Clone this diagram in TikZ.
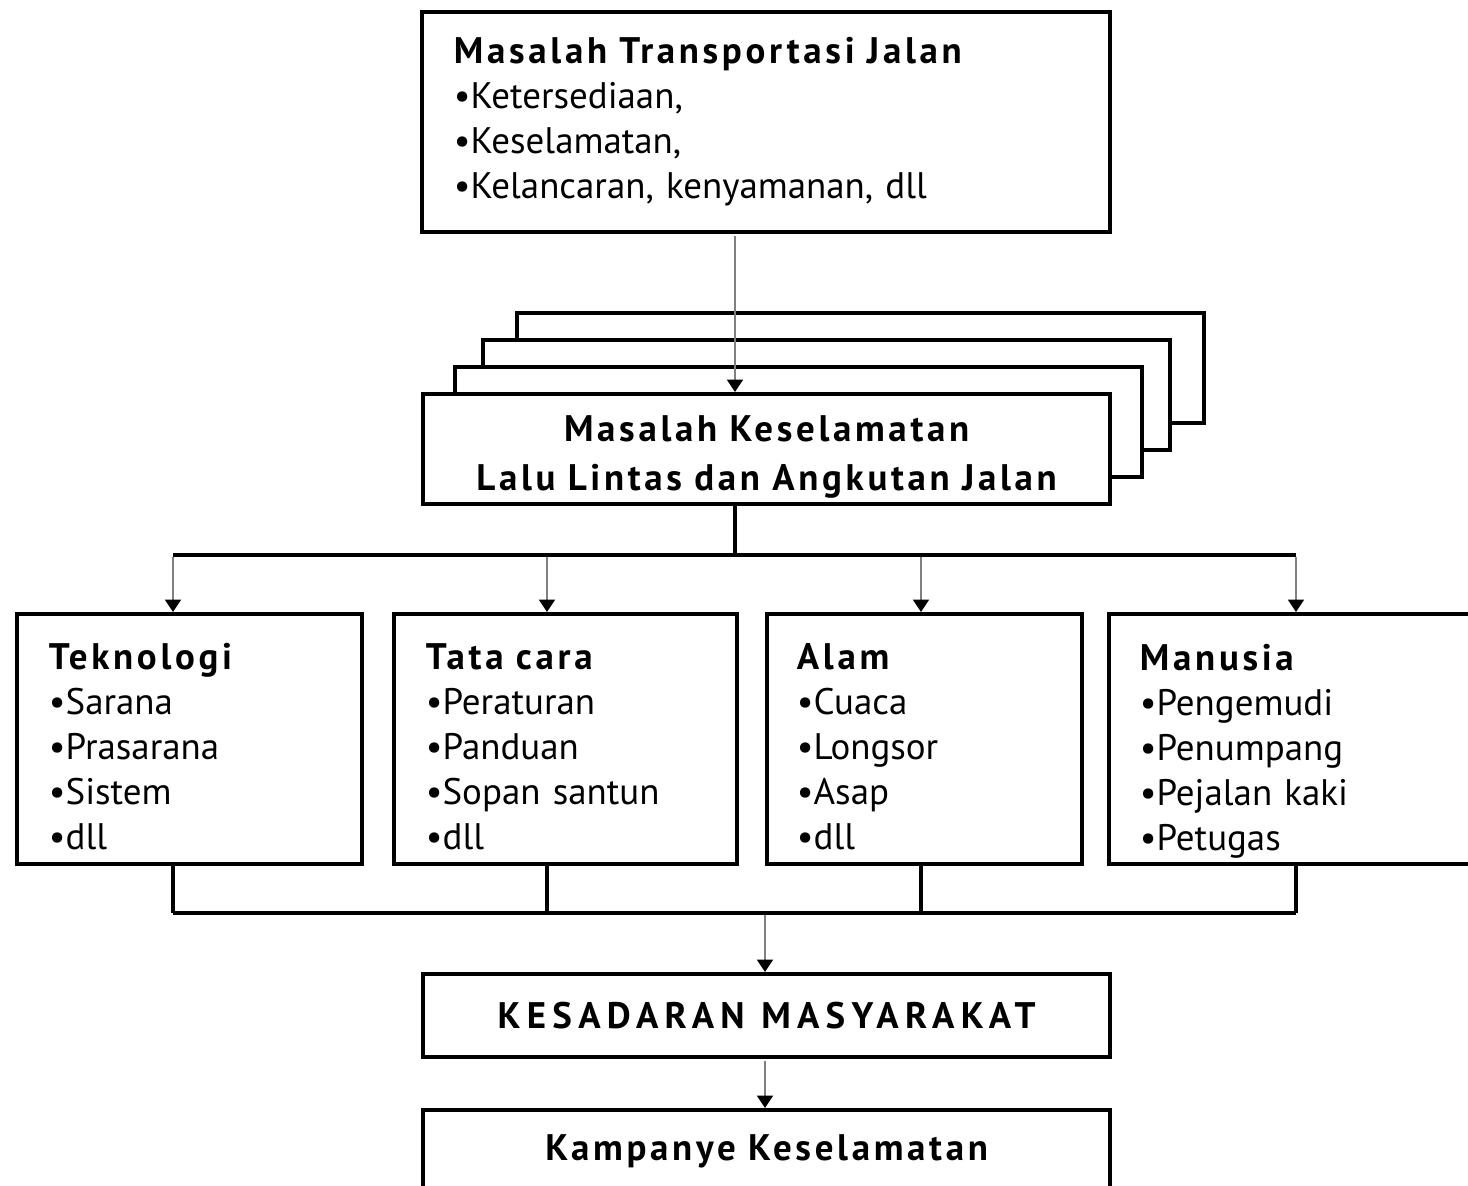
\documentclass[tikz,border=0pt]{standalone}
\usepackage{fontspec}
\setmainfont{PT Sans}[BoldFeatures={LetterSpace=10}]
\newfontfamily\capsfont{PT Sans}[BoldFeatures={LetterSpace=17}]
\usetikzlibrary{arrows.meta}
\tikzstyle{arrow} = [line width=0.5pt, draw=gray, shorten <=0.6pt, -{Triangle[width=4.5pt,length=3.5pt,color=black]}]
\tikzstyle{line} = [line width=1.1pt]
\tikzstyle{box} = [draw, fill=white, line width=1.1pt, rectangle, anchor=north west, inner xsep=0.32cm, inner ysep=0pt, align=left, font=\fontsize{10.5}{12.8}\selectfont]
\tikzstyle{cbox} = [box, align=center, font=\bfseries\fontsize{10.5}{13.8}\selectfont]

\begin{document}
\begin{tikzpicture}[x=0.01cm, y=-0.01cm]
\useasboundingbox (0,0) rectangle (1468,1186);
\clip (0,0) rectangle (1468,1186);
\fill[white] (0,0) rectangle (1468,1186);

% top box
\node[box, minimum width=6.88cm, minimum height=2.2cm, text width=6.24cm] (transport) at (420,10)
  {\textbf{Masalah Transportasi Jalan}\\ •Ketersediaan,\\ •Keselamatan,\\ •Kelancaran, kenyamanan, dll};

% stacked boxes behind
\foreach \dx/\dy in {96/79, 62/52, 34/25}
  \draw[line, fill=white] (421+\dx, 392-\dy) rectangle ++(687,110);
\node[cbox, minimum width=6.87cm, minimum height=1.1cm, text width=6.23cm] (llaj) at (421,392)
  {\rule{0pt}{12pt}Masalah Keselamatan\\ Lalu Lintas dan Angkutan Jalan};

% four factors
\node[box, minimum width=3.45cm, minimum height=2.5cm, text width=2.81cm] (tek) at (15,612)
  {\rule{0pt}{12pt}\textbf{Teknologi}\\ •Sarana\\ •Prasarana\\ •Sistem\\ •dll};
\node[box, minimum width=3.43cm, minimum height=2.5cm, text width=2.79cm, inner xsep=0.28cm] (tata) at (392,612)
  {\rule{0pt}{12pt}\textbf{Tata cara}\\ •Peraturan\\ •Panduan\\ •Sopan santun\\ •dll};
\node[box, minimum width=3.15cm, minimum height=2.5cm, text width=2.55cm, inner xsep=0.30cm] (alam) at (765,612)
  {\rule{0pt}{12pt}\textbf{Alam}\\ •Cuaca\\ •Longsor\\ •Asap\\ •dll};
\node[box, minimum width=4.2cm, minimum height=2.5cm, text width=3.58cm, inner xsep=0.31cm] (manusia) at (1107,612)
  {\rule{0pt}{14.5pt}\textbf{Manusia}\\ •Pengemudi\\ •Penumpang\\ •Pejalan kaki\\ •Petugas};

% bottom boxes
\node[cbox, minimum width=6.87cm, minimum height=0.83cm, text width=6.23cm] (sadar) at (421,972)
  {\capsfont\bfseries KESADARAN\hspace{0.45em}MASYARAKAT};
\node[cbox, minimum width=6.87cm, minimum height=0.83cm, text width=6.23cm] (kampanye) at (421,1108)
  {Kampanye Keselamatan};

% connectors
\coordinate (split) at (735,555);
\coordinate (join) at (765,913);
\draw[arrow] (transport.south -| split) -- (llaj.north -| split);
\foreach \n/\x in {tek/173, tata/547, alam/921, manusia/1296} {
  \coordinate (top-\n) at (\x,555);
  \coordinate (bot-\n) at (\x,913);
  \draw[arrow] (top-\n) -- (top-\n |- \n.north);
  \draw[line] (\n.south -| bot-\n) -- (bot-\n);
}
\draw[line] (llaj.south -| split) -- (split);
\draw[line] (top-tek) -- (top-manusia);
\draw[line] (bot-tek) -- (bot-manusia);
\draw[arrow] (join) -- (join |- sadar.north);
\draw[arrow] (sadar.south -| join) -- (kampanye.north -| join);
\end{tikzpicture}
\end{document}
